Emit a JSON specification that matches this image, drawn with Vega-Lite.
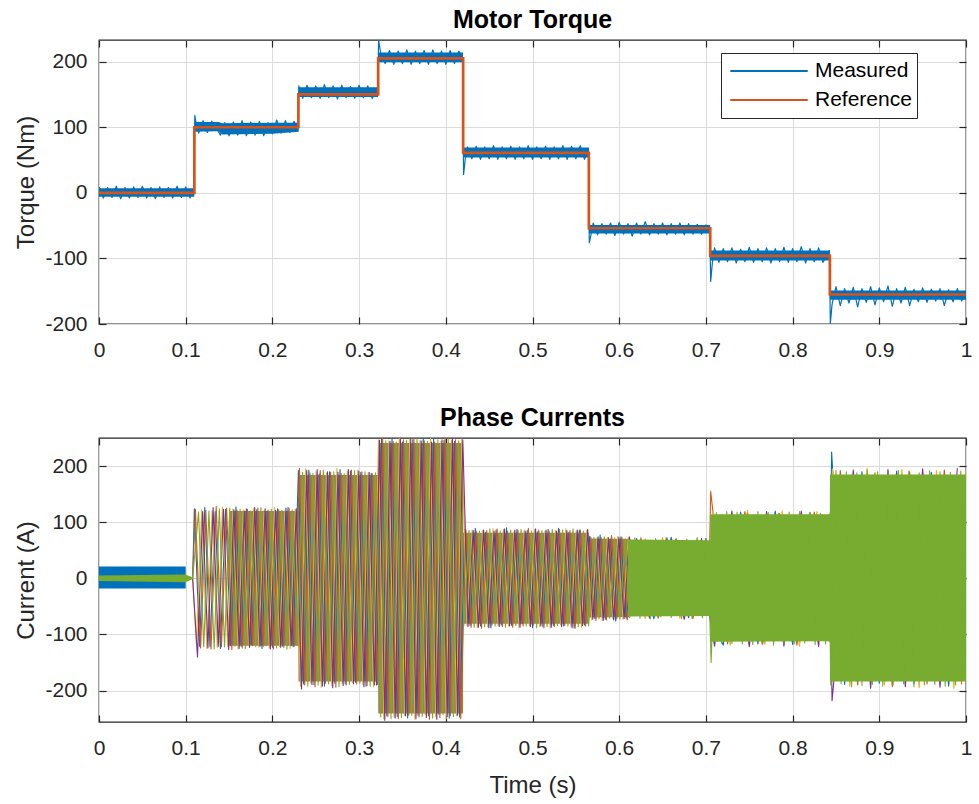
{
"$schema":"https://vega.github.io/schema/vega-lite/v6.json",
"background":"white",
"padding":{"left":14,"top":7,"right":5,"bottom":4},
"bounds":"flush",
"spacing":114,
"resolve":{"scale":{"color":"independent","x":"independent","y":"independent"}},
"config":{
 "font":"Liberation Sans",
 "view":{"stroke":"#262626","strokeWidth":1.3},
 "axis":{"labelFont":"Liberation Sans","labelFontSize":21,"labelColor":"#262626","labelFlush":false,"labelOverlap":false,"titleFont":"Liberation Sans","titleFontSize":24,"titleFontWeight":"normal","titleColor":"#262626","gridColor":"#dcdcdc","gridWidth":1,"domain":false,"tickColor":"#262626","tickSize":-7,"tickWidth":1.2},
 "axisX":{"labelPadding":22,"titlePadding":15},
 "axisY":{"labelPadding":19,"titlePadding":6},
 "title":{"font":"Liberation Sans","fontSize":25,"fontWeight":"bold","color":"#000000","offset":6,"anchor":"middle"},
 "legend":{"labelFont":"Liberation Sans"}
},
"datasets":{
"tband":[{"t":0,"lo":-6,"hi":7},{"t":0.1099,"lo":-6,"hi":7},{"t":0.1101,"lo":93,"hi":108},{"t":0.138,"lo":94,"hi":108},{"t":0.142,"lo":89,"hi":106},{"t":0.2,"lo":90,"hi":107},{"t":0.2299,"lo":93,"hi":107},{"t":0.2301,"lo":146,"hi":161},{"t":0.3219,"lo":146,"hi":161},{"t":0.3221,"lo":199,"hi":214},{"t":0.4199,"lo":199,"hi":214},{"t":0.4201,"lo":54,"hi":69},{"t":0.5649,"lo":54,"hi":69},{"t":0.5651,"lo":-62,"hi":-49},{"t":0.7049,"lo":-62,"hi":-49},{"t":0.7051,"lo":-103,"hi":-88},{"t":0.8429,"lo":-103,"hi":-88},{"t":0.8431,"lo":-163,"hi":-149},{"t":1,"lo":-163,"hi":-149}],
"meas":[{"t":0,"m":9},{"t":0.005,"m":-8},{"t":0.01,"m":8},{"t":0.015,"m":-7},{"t":0.02,"m":10},{"t":0.025,"m":-9},{"t":0.03,"m":8},{"t":0.035,"m":-8},{"t":0.04,"m":9},{"t":0.045,"m":-7},{"t":0.05,"m":10},{"t":0.055,"m":-8},{"t":0.06,"m":8},{"t":0.065,"m":-9},{"t":0.07,"m":9},{"t":0.075,"m":-7},{"t":0.08,"m":8},{"t":0.085,"m":-8},{"t":0.09,"m":10},{"t":0.095,"m":-7},{"t":0.1,"m":9},{"t":0.105,"m":-8},{"t":0.1095,"m":8},
{"t":0.1105,"m":118},{"t":0.112,"m":106},{"t":0.115,"m":91},{"t":0.12,"m":110},{"t":0.125,"m":92},{"t":0.13,"m":109},{"t":0.135,"m":100},{"t":0.14,"m":88},{"t":0.145,"m":107},{"t":0.15,"m":87},{"t":0.155,"m":108},{"t":0.16,"m":88},{"t":0.165,"m":110},{"t":0.17,"m":87},{"t":0.175,"m":108},{"t":0.18,"m":88},{"t":0.185,"m":109},{"t":0.19,"m":87},{"t":0.195,"m":107},{"t":0.2,"m":90},{"t":0.205,"m":111},{"t":0.21,"m":91},{"t":0.215,"m":110},{"t":0.22,"m":92},{"t":0.225,"m":109},{"t":0.2295,"m":94},
{"t":0.2305,"m":163},{"t":0.235,"m":144},{"t":0.24,"m":164},{"t":0.245,"m":145},{"t":0.25,"m":163},{"t":0.255,"m":144},{"t":0.26,"m":165},{"t":0.265,"m":145},{"t":0.27,"m":163},{"t":0.275,"m":143},{"t":0.28,"m":164},{"t":0.285,"m":145},{"t":0.29,"m":162},{"t":0.295,"m":144},{"t":0.3,"m":164},{"t":0.305,"m":145},{"t":0.31,"m":163},{"t":0.315,"m":144},{"t":0.3215,"m":160},
{"t":0.3225,"m":233},{"t":0.325,"m":212},{"t":0.33,"m":197},{"t":0.335,"m":217},{"t":0.34,"m":196},{"t":0.345,"m":216},{"t":0.35,"m":197},{"t":0.355,"m":218},{"t":0.36,"m":196},{"t":0.365,"m":216},{"t":0.37,"m":197},{"t":0.375,"m":217},{"t":0.38,"m":196},{"t":0.385,"m":218},{"t":0.39,"m":197},{"t":0.395,"m":216},{"t":0.4,"m":196},{"t":0.405,"m":217},{"t":0.41,"m":197},{"t":0.415,"m":216},{"t":0.4195,"m":205},
{"t":0.4205,"m":28},{"t":0.4225,"m":52},{"t":0.425,"m":70},{"t":0.43,"m":52},{"t":0.435,"m":71},{"t":0.44,"m":51},{"t":0.445,"m":70},{"t":0.45,"m":52},{"t":0.455,"m":72},{"t":0.46,"m":51},{"t":0.465,"m":70},{"t":0.47,"m":52},{"t":0.475,"m":71},{"t":0.48,"m":51},{"t":0.485,"m":70},{"t":0.49,"m":52},{"t":0.495,"m":72},{"t":0.5,"m":51},{"t":0.505,"m":70},{"t":0.51,"m":52},{"t":0.515,"m":71},{"t":0.52,"m":51},{"t":0.525,"m":70},{"t":0.53,"m":52},{"t":0.535,"m":72},{"t":0.54,"m":51},{"t":0.545,"m":71},{"t":0.55,"m":52},{"t":0.555,"m":72},{"t":0.56,"m":51},{"t":0.5645,"m":68},
{"t":0.5655,"m":-76},{"t":0.5675,"m":-64},{"t":0.57,"m":-46},{"t":0.575,"m":-64},{"t":0.58,"m":-47},{"t":0.585,"m":-63},{"t":0.59,"m":-46},{"t":0.595,"m":-65},{"t":0.6,"m":-45},{"t":0.605,"m":-63},{"t":0.61,"m":-47},{"t":0.615,"m":-66},{"t":0.62,"m":-46},{"t":0.625,"m":-63},{"t":0.63,"m":-44},{"t":0.635,"m":-64},{"t":0.64,"m":-47},{"t":0.645,"m":-63},{"t":0.65,"m":-46},{"t":0.655,"m":-64},{"t":0.66,"m":-47},{"t":0.665,"m":-63},{"t":0.67,"m":-46},{"t":0.675,"m":-64},{"t":0.68,"m":-47},{"t":0.685,"m":-63},{"t":0.69,"m":-48},{"t":0.695,"m":-63},{"t":0.7,"m":-49},{"t":0.7045,"m":-56},
{"t":0.7055,"m":-135},{"t":0.7075,"m":-106},{"t":0.71,"m":-84},{"t":0.715,"m":-106},{"t":0.72,"m":-85},{"t":0.725,"m":-105},{"t":0.73,"m":-84},{"t":0.735,"m":-107},{"t":0.74,"m":-86},{"t":0.745,"m":-105},{"t":0.75,"m":-83},{"t":0.755,"m":-106},{"t":0.76,"m":-85},{"t":0.765,"m":-105},{"t":0.77,"m":-84},{"t":0.775,"m":-107},{"t":0.78,"m":-85},{"t":0.785,"m":-105},{"t":0.79,"m":-83},{"t":0.795,"m":-106},{"t":0.8,"m":-85},{"t":0.805,"m":-105},{"t":0.81,"m":-82},{"t":0.815,"m":-107},{"t":0.82,"m":-85},{"t":0.825,"m":-105},{"t":0.83,"m":-84},{"t":0.835,"m":-106},{"t":0.8425,"m":-88},
{"t":0.8435,"m":-200},{"t":0.8455,"m":-170},{"t":0.85,"m":-143},{"t":0.855,"m":-172},{"t":0.86,"m":-146},{"t":0.865,"m":-168},{"t":0.87,"m":-144},{"t":0.875,"m":-174},{"t":0.88,"m":-146},{"t":0.885,"m":-167},{"t":0.89,"m":-143},{"t":0.895,"m":-171},{"t":0.9,"m":-145},{"t":0.905,"m":-166},{"t":0.91,"m":-142},{"t":0.915,"m":-173},{"t":0.92,"m":-146},{"t":0.925,"m":-168},{"t":0.93,"m":-144},{"t":0.935,"m":-172},{"t":0.94,"m":-147},{"t":0.945,"m":-166},{"t":0.95,"m":-145},{"t":0.955,"m":-167},{"t":0.96,"m":-147},{"t":0.965,"m":-165},{"t":0.97,"m":-146},{"t":0.975,"m":-172},{"t":0.98,"m":-148},{"t":0.985,"m":-166},{"t":0.99,"m":-146},{"t":0.995,"m":-165},{"t":1,"m":-152}],
"tref":[{"t":0,"r":0},{"t":0.11,"r":100},{"t":0.23,"r":150},{"t":0.322,"r":205},{"t":0.42,"r":61},{"t":0.565,"r":-54},{"t":0.705,"r":-96},{"t":0.843,"r":-155},{"t":1,"r":-155}],
"cb0":[{"t":0,"lo":-18,"hi":21},{"t":0.1,"lo":-18,"hi":21}],
"cmix":[{"t":0.15,"lo":-120,"hi":120},{"t":0.2299,"lo":-120,"hi":120},{"t":0.2301,"lo":-184,"hi":184},{"t":0.3219,"lo":-184,"hi":184},{"t":0.3221,"lo":-241,"hi":241},{"t":0.4199,"lo":-241,"hi":241},{"t":0.4201,"lo":-81,"hi":81},{"t":0.5649,"lo":-81,"hi":81},{"t":0.5651,"lo":-70,"hi":71},{"t":0.612,"lo":-69,"hi":70}],
"cgreen":[{"s":1,"t":0,"lo":-5,"hi":5},{"s":1,"t":0.1,"lo":-7,"hi":7},{"s":1,"t":0.11,"lo":0,"hi":0},{"s":2,"t":0.61,"lo":-68,"hi":69},{"s":2,"t":0.7049,"lo":-67,"hi":68},{"s":2,"t":0.7051,"lo":-113,"hi":114},{"s":2,"t":0.8429,"lo":-112,"hi":114},{"s":2,"t":0.8431,"lo":-184,"hi":185},{"s":2,"t":1,"lo":-184,"hi":185}],
"ph":[
{"p":"a","t":0.108,"i":0},{"p":"a","t":0.11,"i":124},{"p":"a","t":0.116,"i":-121},{"p":"a","t":0.122,"i":126},{"p":"a","t":0.128,"i":-122},{"p":"a","t":0.134,"i":119},{"p":"a","t":0.14,"i":-125},{"p":"a","t":0.146,"i":123},{"p":"a","t":0.152,"i":-120},{"p":"a","t":0.158,"i":127},{"p":"a","t":0.164,"i":-121},{"p":"a","t":0.17,"i":124},{"p":"a","t":0.176,"i":-118},{"p":"a","t":0.182,"i":122},{"p":"a","t":0.188,"i":-125},{"p":"a","t":0.194,"i":120},{"p":"a","t":0.2,"i":-123},{"p":"a","t":0.206,"i":124},{"p":"a","t":0.212,"i":-121},{"p":"a","t":0.218,"i":126},{"p":"a","t":0.224,"i":-122},
{"p":"a","t":0.23,"i":192},{"p":"a","t":0.236,"i":-188},{"p":"a","t":0.242,"i":193},{"p":"a","t":0.248,"i":-189},{"p":"a","t":0.254,"i":186},{"p":"a","t":0.26,"i":-192},{"p":"a","t":0.266,"i":190},{"p":"a","t":0.272,"i":-187},{"p":"a","t":0.278,"i":194},{"p":"a","t":0.284,"i":-188},{"p":"a","t":0.29,"i":191},{"p":"a","t":0.296,"i":-185},{"p":"a","t":0.302,"i":189},{"p":"a","t":0.308,"i":-192},{"p":"a","t":0.314,"i":187},{"p":"a","t":0.32,"i":-190},
{"p":"a","t":0.326,"i":248},{"p":"a","t":0.332,"i":-245},{"p":"a","t":0.338,"i":250},{"p":"a","t":0.344,"i":-246},{"p":"a","t":0.35,"i":243},{"p":"a","t":0.356,"i":-249},{"p":"a","t":0.362,"i":247},{"p":"a","t":0.368,"i":-244},{"p":"a","t":0.374,"i":251},{"p":"a","t":0.38,"i":-245},{"p":"a","t":0.386,"i":248},{"p":"a","t":0.392,"i":-242},{"p":"a","t":0.398,"i":246},{"p":"a","t":0.404,"i":-249},{"p":"a","t":0.41,"i":244},{"p":"a","t":0.416,"i":-247},
{"p":"a","t":0.422,"i":87},{"p":"a","t":0.428,"i":-84},{"p":"a","t":0.434,"i":89},{"p":"a","t":0.44,"i":-85},{"p":"a","t":0.446,"i":82},{"p":"a","t":0.452,"i":-88},{"p":"a","t":0.458,"i":86},{"p":"a","t":0.464,"i":-83},{"p":"a","t":0.47,"i":90},{"p":"a","t":0.476,"i":-84},{"p":"a","t":0.482,"i":87},{"p":"a","t":0.488,"i":-81},{"p":"a","t":0.494,"i":85},{"p":"a","t":0.5,"i":-88},{"p":"a","t":0.506,"i":83},{"p":"a","t":0.512,"i":-86},{"p":"a","t":0.518,"i":87},{"p":"a","t":0.524,"i":-84},{"p":"a","t":0.53,"i":89},{"p":"a","t":0.536,"i":-85},{"p":"a","t":0.542,"i":82},{"p":"a","t":0.548,"i":-88},{"p":"a","t":0.554,"i":86},{"p":"a","t":0.56,"i":-83},
{"p":"a","t":0.566,"i":75},{"p":"a","t":0.572,"i":-72},{"p":"a","t":0.578,"i":77},{"p":"a","t":0.584,"i":-73},{"p":"a","t":0.59,"i":70},{"p":"a","t":0.596,"i":-76},{"p":"a","t":0.602,"i":74},{"p":"a","t":0.608,"i":-71},
{"p":"a","t":0.62,"i":71},{"p":"a","t":0.64,"i":-72},{"p":"a","t":0.66,"i":73},{"p":"a","t":0.68,"i":-70},{"p":"a","t":0.7,"i":71},{"p":"a","t":0.7045,"i":-68},{"p":"a","t":0.72,"i":-119},{"p":"a","t":0.74,"i":118},{"p":"a","t":0.76,"i":-117},{"p":"a","t":0.78,"i":120},{"p":"a","t":0.8,"i":-118},{"p":"a","t":0.82,"i":117},{"p":"a","t":0.8425,"i":-112},{"p":"a","t":0.845,"i":225},{"p":"a","t":0.86,"i":-189},{"p":"a","t":0.88,"i":190},{"p":"a","t":0.9,"i":-187},{"p":"a","t":0.92,"i":191},{"p":"a","t":0.94,"i":-188},{"p":"a","t":0.96,"i":189},{"p":"a","t":0.98,"i":-192},{"p":"a","t":1,"i":187},
{"p":"b","t":0.108,"i":0},{"p":"b","t":0.1112,"i":123},{"p":"b","t":0.1172,"i":-124},{"p":"b","t":0.1232,"i":121},{"p":"b","t":0.1292,"i":-126},{"p":"b","t":0.1352,"i":128},{"p":"b","t":0.1412,"i":-122},{"p":"b","t":0.1472,"i":125},{"p":"b","t":0.1532,"i":-127},{"p":"b","t":0.1592,"i":121},{"p":"b","t":0.1652,"i":-124},{"p":"b","t":0.1712,"i":123},{"p":"b","t":0.1772,"i":-120},{"p":"b","t":0.1832,"i":125},{"p":"b","t":0.1892,"i":-122},{"p":"b","t":0.1952,"i":121},{"p":"b","t":0.2012,"i":-126},{"p":"b","t":0.2072,"i":122},{"p":"b","t":0.2132,"i":-123},{"p":"b","t":0.2192,"i":125},{"p":"b","t":0.2252,"i":-121},
{"p":"b","t":0.2312,"i":196},{"p":"b","t":0.2372,"i":-190},{"p":"b","t":0.2432,"i":188},{"p":"b","t":0.2492,"i":-193},{"p":"b","t":0.2552,"i":192},{"p":"b","t":0.2612,"i":-187},{"p":"b","t":0.2672,"i":189},{"p":"b","t":0.2732,"i":-194},{"p":"b","t":0.2792,"i":187},{"p":"b","t":0.2852,"i":-190},{"p":"b","t":0.2912,"i":193},{"p":"b","t":0.2972,"i":-188},{"p":"b","t":0.3032,"i":190},{"p":"b","t":0.3092,"i":-191},{"p":"b","t":0.3152,"i":186},{"p":"b","t":0.3212,"i":-189},
{"p":"b","t":0.3272,"i":249},{"p":"b","t":0.3332,"i":-246},{"p":"b","t":0.3392,"i":244},{"p":"b","t":0.3452,"i":-250},{"p":"b","t":0.3512,"i":247},{"p":"b","t":0.3572,"i":-244},{"p":"b","t":0.3632,"i":250},{"p":"b","t":0.3692,"i":-247},{"p":"b","t":0.3752,"i":245},{"p":"b","t":0.3812,"i":-251},{"p":"b","t":0.3872,"i":243},{"p":"b","t":0.3932,"i":-248},{"p":"b","t":0.3992,"i":249},{"p":"b","t":0.4052,"i":-245},{"p":"b","t":0.4112,"i":247},{"p":"b","t":0.4172,"i":-250},
{"p":"b","t":0.4232,"i":86},{"p":"b","t":0.4292,"i":-87},{"p":"b","t":0.4352,"i":84},{"p":"b","t":0.4412,"i":-89},{"p":"b","t":0.4472,"i":85},{"p":"b","t":0.4532,"i":-83},{"p":"b","t":0.4592,"i":88},{"p":"b","t":0.4652,"i":-86},{"p":"b","t":0.4712,"i":84},{"p":"b","t":0.4772,"i":-87},{"p":"b","t":0.4832,"i":86},{"p":"b","t":0.4892,"i":-85},{"p":"b","t":0.4952,"i":89},{"p":"b","t":0.5012,"i":-83},{"p":"b","t":0.5072,"i":86},{"p":"b","t":0.5132,"i":-88},{"p":"b","t":0.5192,"i":84},{"p":"b","t":0.5252,"i":-86},{"p":"b","t":0.5312,"i":87},{"p":"b","t":0.5372,"i":-84},{"p":"b","t":0.5432,"i":85},{"p":"b","t":0.5492,"i":-89},{"p":"b","t":0.5552,"i":86},{"p":"b","t":0.5612,"i":-85},
{"p":"b","t":0.5672,"i":73},{"p":"b","t":0.5732,"i":-75},{"p":"b","t":0.5792,"i":72},{"p":"b","t":0.5852,"i":-74},{"p":"b","t":0.5912,"i":76},{"p":"b","t":0.5972,"i":-72},{"p":"b","t":0.6032,"i":73},{"p":"b","t":0.6092,"i":-74},
{"p":"b","t":0.625,"i":72},{"p":"b","t":0.645,"i":-71},{"p":"b","t":0.665,"i":70},{"p":"b","t":0.685,"i":-72},{"p":"b","t":0.7045,"i":69},{"p":"b","t":0.7055,"i":155},{"p":"b","t":0.725,"i":-117},{"p":"b","t":0.745,"i":119},{"p":"b","t":0.765,"i":-118},{"p":"b","t":0.785,"i":116},{"p":"b","t":0.805,"i":-119},{"p":"b","t":0.825,"i":118},{"p":"b","t":0.8425,"i":-113},{"p":"b","t":0.855,"i":192},{"p":"b","t":0.875,"i":-190},{"p":"b","t":0.895,"i":188},{"p":"b","t":0.915,"i":-193},{"p":"b","t":0.935,"i":190},{"p":"b","t":0.955,"i":-188},{"p":"b","t":0.975,"i":193},{"p":"b","t":0.995,"i":-189},
{"p":"c","t":0.108,"i":0},{"p":"c","t":0.1124,"i":-117},{"p":"c","t":0.1184,"i":122},{"p":"c","t":0.1244,"i":-125},{"p":"c","t":0.1304,"i":120},{"p":"c","t":0.1364,"i":-123},{"p":"c","t":0.1424,"i":127},{"p":"c","t":0.1484,"i":-121},{"p":"c","t":0.1544,"i":124},{"p":"c","t":0.1604,"i":-126},{"p":"c","t":0.1664,"i":122},{"p":"c","t":0.1724,"i":-120},{"p":"c","t":0.1784,"i":125},{"p":"c","t":0.1844,"i":-123},{"p":"c","t":0.1904,"i":121},{"p":"c","t":0.1964,"i":-124},{"p":"c","t":0.2024,"i":126},{"p":"c","t":0.2084,"i":-122},{"p":"c","t":0.2144,"i":120},{"p":"c","t":0.2204,"i":-125},{"p":"c","t":0.2264,"i":123},
{"p":"c","t":0.2324,"i":-192},{"p":"c","t":0.2384,"i":195},{"p":"c","t":0.2444,"i":-187},{"p":"c","t":0.2504,"i":190},{"p":"c","t":0.2564,"i":-194},{"p":"c","t":0.2624,"i":188},{"p":"c","t":0.2684,"i":-191},{"p":"c","t":0.2744,"i":196},{"p":"c","t":0.2804,"i":-188},{"p":"c","t":0.2864,"i":191},{"p":"c","t":0.2924,"i":-186},{"p":"c","t":0.2984,"i":193},{"p":"c","t":0.3044,"i":-190},{"p":"c","t":0.3104,"i":188},{"p":"c","t":0.3164,"i":-193},
{"p":"c","t":0.3224,"i":247},{"p":"c","t":0.3284,"i":-250},{"p":"c","t":0.3344,"i":245},{"p":"c","t":0.3404,"i":-247},{"p":"c","t":0.3464,"i":250},{"p":"c","t":0.3524,"i":-244},{"p":"c","t":0.3584,"i":248},{"p":"c","t":0.3644,"i":-251},{"p":"c","t":0.3704,"i":246},{"p":"c","t":0.3764,"i":-243},{"p":"c","t":0.3824,"i":249},{"p":"c","t":0.3884,"i":-247},{"p":"c","t":0.3944,"i":244},{"p":"c","t":0.4004,"i":-250},{"p":"c","t":0.4064,"i":246},{"p":"c","t":0.4124,"i":-245},{"p":"c","t":0.4184,"i":248},
{"p":"c","t":0.4244,"i":-84},{"p":"c","t":0.4304,"i":86},{"p":"c","t":0.4364,"i":-88},{"p":"c","t":0.4424,"i":85},{"p":"c","t":0.4484,"i":-86},{"p":"c","t":0.4544,"i":88},{"p":"c","t":0.4604,"i":-84},{"p":"c","t":0.4664,"i":87},{"p":"c","t":0.4724,"i":-85},{"p":"c","t":0.4784,"i":83},{"p":"c","t":0.4844,"i":-88},{"p":"c","t":0.4904,"i":86},{"p":"c","t":0.4964,"i":-84},{"p":"c","t":0.5024,"i":87},{"p":"c","t":0.5084,"i":-86},{"p":"c","t":0.5144,"i":84},{"p":"c","t":0.5204,"i":-88},{"p":"c","t":0.5264,"i":85},{"p":"c","t":0.5324,"i":-83},{"p":"c","t":0.5384,"i":88},{"p":"c","t":0.5444,"i":-86},{"p":"c","t":0.5504,"i":84},{"p":"c","t":0.5564,"i":-87},{"p":"c","t":0.5624,"i":85},
{"p":"c","t":0.5684,"i":-74},{"p":"c","t":0.5744,"i":72},{"p":"c","t":0.5804,"i":-75},{"p":"c","t":0.5864,"i":73},{"p":"c","t":0.5924,"i":-71},{"p":"c","t":0.5984,"i":75},{"p":"c","t":0.6044,"i":-73},{"p":"c","t":0.6104,"i":72},
{"p":"c","t":0.63,"i":-72},{"p":"c","t":0.65,"i":73},{"p":"c","t":0.67,"i":-71},{"p":"c","t":0.69,"i":72},{"p":"c","t":0.7045,"i":-70},{"p":"c","t":0.708,"i":120},{"p":"c","t":0.728,"i":-119},{"p":"c","t":0.748,"i":121},{"p":"c","t":0.768,"i":-118},{"p":"c","t":0.788,"i":120},{"p":"c","t":0.808,"i":-121},{"p":"c","t":0.828,"i":119},{"p":"c","t":0.8425,"i":-112},{"p":"c","t":0.846,"i":195},{"p":"c","t":0.866,"i":-192},{"p":"c","t":0.886,"i":196},{"p":"c","t":0.906,"i":-190},{"p":"c","t":0.926,"i":194},{"p":"c","t":0.946,"i":-195},{"p":"c","t":0.966,"i":192},{"p":"c","t":0.986,"i":-196},{"p":"c","t":1,"i":190},
{"p":"d","t":0.108,"i":0},{"p":"d","t":0.1136,"i":-140},{"p":"d","t":0.1196,"i":119},{"p":"d","t":0.1256,"i":-124},{"p":"d","t":0.1316,"i":126},{"p":"d","t":0.1376,"i":-121},{"p":"d","t":0.1436,"i":123},{"p":"d","t":0.1496,"i":-127},{"p":"d","t":0.1556,"i":122},{"p":"d","t":0.1616,"i":-125},{"p":"d","t":0.1676,"i":120},{"p":"d","t":0.1736,"i":-123},{"p":"d","t":0.1796,"i":126},{"p":"d","t":0.1856,"i":-121},{"p":"d","t":0.1916,"i":124},{"p":"d","t":0.1976,"i":-126},{"p":"d","t":0.2036,"i":121},{"p":"d","t":0.2096,"i":-123},{"p":"d","t":0.2156,"i":125},{"p":"d","t":0.2216,"i":-120},{"p":"d","t":0.2276,"i":124},
{"p":"d","t":0.2336,"i":-197},{"p":"d","t":0.2396,"i":192},{"p":"d","t":0.2456,"i":-189},{"p":"d","t":0.2516,"i":194},{"p":"d","t":0.2576,"i":-192},{"p":"d","t":0.2636,"i":190},{"p":"d","t":0.2696,"i":-195},{"p":"d","t":0.2756,"i":189},{"p":"d","t":0.2816,"i":-191},{"p":"d","t":0.2876,"i":194},{"p":"d","t":0.2936,"i":-188},{"p":"d","t":0.2996,"i":191},{"p":"d","t":0.3056,"i":-193},{"p":"d","t":0.3116,"i":189},{"p":"d","t":0.3176,"i":-190},
{"p":"d","t":0.3236,"i":246},{"p":"d","t":0.3296,"i":-253},{"p":"d","t":0.3356,"i":244},{"p":"d","t":0.3416,"i":-249},{"p":"d","t":0.3476,"i":250},{"p":"d","t":0.3536,"i":-245},{"p":"d","t":0.3596,"i":248},{"p":"d","t":0.3656,"i":-250},{"p":"d","t":0.3716,"i":245},{"p":"d","t":0.3776,"i":-248},{"p":"d","t":0.3836,"i":243},{"p":"d","t":0.3896,"i":-251},{"p":"d","t":0.3956,"i":247},{"p":"d","t":0.4016,"i":-246},{"p":"d","t":0.4076,"i":250},{"p":"d","t":0.4136,"i":-244},{"p":"d","t":0.4196,"i":247},
{"p":"d","t":0.4256,"i":-86},{"p":"d","t":0.4316,"i":85},{"p":"d","t":0.4376,"i":-87},{"p":"d","t":0.4436,"i":86},{"p":"d","t":0.4496,"i":-88},{"p":"d","t":0.4556,"i":84},{"p":"d","t":0.4616,"i":-86},{"p":"d","t":0.4676,"i":88},{"p":"d","t":0.4736,"i":-85},{"p":"d","t":0.4796,"i":86},{"p":"d","t":0.4856,"i":-87},{"p":"d","t":0.4916,"i":84},{"p":"d","t":0.4976,"i":-86},{"p":"d","t":0.5036,"i":88},{"p":"d","t":0.5096,"i":-85},{"p":"d","t":0.5156,"i":86},{"p":"d","t":0.5216,"i":-87},{"p":"d","t":0.5276,"i":84},{"p":"d","t":0.5336,"i":-86},{"p":"d","t":0.5396,"i":85},{"p":"d","t":0.5456,"i":-88},{"p":"d","t":0.5516,"i":86},{"p":"d","t":0.5576,"i":-84},{"p":"d","t":0.5636,"i":87},
{"p":"d","t":0.5696,"i":-73},{"p":"d","t":0.5756,"i":74},{"p":"d","t":0.5816,"i":-75},{"p":"d","t":0.5876,"i":72},{"p":"d","t":0.5936,"i":-74},{"p":"d","t":0.5996,"i":73},{"p":"d","t":0.6056,"i":-72},{"p":"d","t":0.6116,"i":74},
{"p":"d","t":0.635,"i":-71},{"p":"d","t":0.655,"i":72},{"p":"d","t":0.675,"i":-73},{"p":"d","t":0.695,"i":71},{"p":"d","t":0.7045,"i":-69},{"p":"d","t":0.71,"i":-121},{"p":"d","t":0.73,"i":120},{"p":"d","t":0.75,"i":-122},{"p":"d","t":0.77,"i":119},{"p":"d","t":0.79,"i":-121},{"p":"d","t":0.81,"i":120},{"p":"d","t":0.83,"i":-122},{"p":"d","t":0.8425,"i":112},{"p":"d","t":0.8455,"i":-218},{"p":"d","t":0.87,"i":193},{"p":"d","t":0.89,"i":-196},{"p":"d","t":0.91,"i":194},{"p":"d","t":0.93,"i":-193},{"p":"d","t":0.95,"i":195},{"p":"d","t":0.97,"i":-194},{"p":"d","t":0.99,"i":196},
{"p":"e","t":0.108,"i":0},{"p":"e","t":0.1148,"i":118},{"p":"e","t":0.1208,"i":-122},{"p":"e","t":0.1268,"i":120},{"p":"e","t":0.1328,"i":-126},{"p":"e","t":0.1388,"i":124},{"p":"e","t":0.1448,"i":-122},{"p":"e","t":0.1508,"i":125},{"p":"e","t":0.1568,"i":-121},{"p":"e","t":0.1628,"i":123},{"p":"e","t":0.1688,"i":-125},{"p":"e","t":0.1748,"i":120},{"p":"e","t":0.1808,"i":-122},{"p":"e","t":0.1868,"i":126},{"p":"e","t":0.1928,"i":-120},{"p":"e","t":0.1988,"i":123},{"p":"e","t":0.2048,"i":-124},{"p":"e","t":0.2108,"i":121},{"p":"e","t":0.2168,"i":-126},{"p":"e","t":0.2228,"i":122},{"p":"e","t":0.2288,"i":-120},
{"p":"e","t":0.2348,"i":189},{"p":"e","t":0.2408,"i":-192},{"p":"e","t":0.2468,"i":187},{"p":"e","t":0.2528,"i":-190},{"p":"e","t":0.2588,"i":193},{"p":"e","t":0.2648,"i":-188},{"p":"e","t":0.2708,"i":190},{"p":"e","t":0.2768,"i":-193},{"p":"e","t":0.2828,"i":186},{"p":"e","t":0.2888,"i":-189},{"p":"e","t":0.2948,"i":192},{"p":"e","t":0.3008,"i":-187},{"p":"e","t":0.3068,"i":190},{"p":"e","t":0.3128,"i":-192},{"p":"e","t":0.3188,"i":188},
{"p":"e","t":0.3248,"i":-247},{"p":"e","t":0.3308,"i":245},{"p":"e","t":0.3368,"i":-250},{"p":"e","t":0.3428,"i":243},{"p":"e","t":0.3488,"i":-248},{"p":"e","t":0.3548,"i":246},{"p":"e","t":0.3608,"i":-244},{"p":"e","t":0.3668,"i":249},{"p":"e","t":0.3728,"i":-246},{"p":"e","t":0.3788,"i":244},{"p":"e","t":0.3848,"i":-249},{"p":"e","t":0.3908,"i":247},{"p":"e","t":0.3968,"i":-243},{"p":"e","t":0.4028,"i":248},{"p":"e","t":0.4088,"i":-246},{"p":"e","t":0.4148,"i":245},
{"p":"e","t":0.4208,"i":-84},{"p":"e","t":0.4268,"i":85},{"p":"e","t":0.4328,"i":-87},{"p":"e","t":0.4388,"i":84},{"p":"e","t":0.4448,"i":-86},{"p":"e","t":0.4508,"i":88},{"p":"e","t":0.4568,"i":-85},{"p":"e","t":0.4628,"i":84},{"p":"e","t":0.4688,"i":-87},{"p":"e","t":0.4748,"i":86},{"p":"e","t":0.4808,"i":-84},{"p":"e","t":0.4868,"i":87},{"p":"e","t":0.4928,"i":-85},{"p":"e","t":0.4988,"i":84},{"p":"e","t":0.5048,"i":-88},{"p":"e","t":0.5108,"i":85},{"p":"e","t":0.5168,"i":-86},{"p":"e","t":0.5228,"i":87},{"p":"e","t":0.5288,"i":-84},{"p":"e","t":0.5348,"i":86},{"p":"e","t":0.5408,"i":-85},{"p":"e","t":0.5468,"i":88},{"p":"e","t":0.5528,"i":-86},{"p":"e","t":0.5588,"i":84},{"p":"e","t":0.5648,"i":-85},
{"p":"e","t":0.5708,"i":73},{"p":"e","t":0.5768,"i":-72},{"p":"e","t":0.5828,"i":74},{"p":"e","t":0.5888,"i":-71},{"p":"e","t":0.5948,"i":72},{"p":"e","t":0.6008,"i":-73},{"p":"e","t":0.6068,"i":71},
{"p":"e","t":0.612,"i":-70},{"p":"e","t":0.618,"i":72},{"p":"e","t":0.624,"i":-71},{"p":"e","t":0.63,"i":70},{"p":"e","t":0.636,"i":-72},{"p":"e","t":0.642,"i":71},{"p":"e","t":0.648,"i":-69},{"p":"e","t":0.654,"i":72},{"p":"e","t":0.66,"i":-70},{"p":"e","t":0.666,"i":71},{"p":"e","t":0.672,"i":-72},{"p":"e","t":0.678,"i":70},{"p":"e","t":0.684,"i":-71},{"p":"e","t":0.69,"i":72},{"p":"e","t":0.696,"i":-70},{"p":"e","t":0.7,"i":71},{"p":"e","t":0.7045,"i":-69},
{"p":"e","t":0.706,"i":-150},{"p":"e","t":0.712,"i":117},{"p":"e","t":0.718,"i":-115},{"p":"e","t":0.724,"i":119},{"p":"e","t":0.73,"i":-116},{"p":"e","t":0.736,"i":118},{"p":"e","t":0.742,"i":-117},{"p":"e","t":0.748,"i":116},{"p":"e","t":0.754,"i":-118},{"p":"e","t":0.76,"i":119},{"p":"e","t":0.766,"i":-115},{"p":"e","t":0.772,"i":117},{"p":"e","t":0.778,"i":-119},{"p":"e","t":0.784,"i":116},{"p":"e","t":0.79,"i":-116},{"p":"e","t":0.796,"i":118},{"p":"e","t":0.802,"i":-117},{"p":"e","t":0.808,"i":119},{"p":"e","t":0.814,"i":-115},{"p":"e","t":0.82,"i":117},{"p":"e","t":0.826,"i":-118},{"p":"e","t":0.832,"i":116},{"p":"e","t":0.838,"i":-117},{"p":"e","t":0.8425,"i":115},
{"p":"e","t":0.844,"i":-190},{"p":"e","t":0.85,"i":192},{"p":"e","t":0.856,"i":-188},{"p":"e","t":0.862,"i":190},{"p":"e","t":0.868,"i":-193},{"p":"e","t":0.874,"i":188},{"p":"e","t":0.88,"i":-191},{"p":"e","t":0.886,"i":193},{"p":"e","t":0.892,"i":-189},{"p":"e","t":0.898,"i":190},{"p":"e","t":0.904,"i":-192},{"p":"e","t":0.91,"i":189},{"p":"e","t":0.916,"i":-190},{"p":"e","t":0.922,"i":192},{"p":"e","t":0.928,"i":-188},{"p":"e","t":0.934,"i":191},{"p":"e","t":0.94,"i":-193},{"p":"e","t":0.946,"i":188},{"p":"e","t":0.952,"i":-190},{"p":"e","t":0.958,"i":192},{"p":"e","t":0.964,"i":-189},{"p":"e","t":0.97,"i":190},{"p":"e","t":0.976,"i":-192},{"p":"e","t":0.982,"i":189},{"p":"e","t":0.988,"i":-190},{"p":"e","t":0.994,"i":191},{"p":"e","t":1,"i":-188}
]
},
"vconcat":[
{
 "title":"Motor Torque",
 "width":867,"height":284,
 "resolve":{"axis":{"x":"independent","y":"independent"}},
 "layer":[
  {"data":{"name":"tband"},"mark":{"type":"area","color":"#0072BD","clip":true},
   "encoding":{
    "x":{"field":"t","type":"quantitative","scale":{"domain":[0,1],"nice":false,"zero":false},"axis":{"values":[0,0.1,0.2,0.3,0.4,0.5,0.6,0.7,0.8,0.9,1],"labelExpr":"''+datum.value","grid":true,"title":null}},
    "y":{"field":"lo","type":"quantitative","scale":{"domain":[-200,233],"nice":false,"zero":false},"axis":{"values":[-200,-100,0,100,200],"labelExpr":"''+datum.value","grid":true,"title":"Torque (Nm)"}},
    "y2":{"field":"hi"}}},
  {"data":{"name":"meas"},"mark":{"type":"line","strokeWidth":1.2,"clip":true,"strokeJoin":"round"},
   "encoding":{
    "x":{"field":"t","type":"quantitative","axis":{"orient":"top","values":[0,0.1,0.2,0.3,0.4,0.5,0.6,0.7,0.8,0.9,1],"labels":false,"grid":false,"title":null}},
    "y":{"field":"m","type":"quantitative","axis":{"orient":"right","values":[-200,-100,0,100,200],"labels":false,"grid":false,"title":null}},
    "color":{"datum":"Measured","type":"nominal","scale":{"domain":["Measured","Reference"],"range":["#0072BD","#D95319"]},
     "legend":{"title":null,"orient":"none","legendX":622,"legendY":13,"symbolType":"stroke","symbolSize":6000,"symbolStrokeWidth":2,"symbolOffset":3,"labelFontSize":21,"labelColor":"#000000","strokeColor":"#262626","fillColor":"#ffffff","padding":5,"clipHeight":26,"labelOffset":6,"rowPadding":3}}}},
  {"data":{"name":"tref"},"mark":{"type":"line","strokeWidth":2.7,"interpolate":"step-after","clip":true},
   "encoding":{"x":{"field":"t","type":"quantitative","axis":null},"y":{"field":"r","type":"quantitative","axis":null},"color":{"datum":"Reference","type":"nominal"}}}
 ]
},
{
 "title":"Phase Currents",
 "width":867,"height":284,
 "resolve":{"axis":{"x":"independent","y":"independent"}},
 "layer":[
  {"data":{"name":"cb0"},"mark":{"type":"area","color":"#0072BD","clip":true},
   "encoding":{
    "x":{"field":"t","type":"quantitative","scale":{"domain":[0,1],"nice":false,"zero":false},"axis":{"values":[0,0.1,0.2,0.3,0.4,0.5,0.6,0.7,0.8,0.9,1],"labelExpr":"''+datum.value","grid":true,"title":"Time (s)"}},
    "y":{"field":"lo","type":"quantitative","scale":{"domain":[-256,250],"nice":false,"zero":false},"axis":{"values":[-200,-100,0,100,200],"labelExpr":"''+datum.value","grid":true,"title":"Current (A)"}},
    "y2":{"field":"hi"}}},
  {"data":{"name":"cmix"},"mark":{"type":"area","color":"#9b8450","clip":true},
   "encoding":{
    "x":{"field":"t","type":"quantitative","axis":{"orient":"top","values":[0,0.1,0.2,0.3,0.4,0.5,0.6,0.7,0.8,0.9,1],"labels":false,"grid":false,"title":null}},
    "y":{"field":"lo","type":"quantitative","axis":{"orient":"right","values":[-200,-100,0,100,200],"labels":false,"grid":false,"title":null}},
    "y2":{"field":"hi"}}},
  {"data":{"name":"ph"},"transform":[{"filter":"datum.p != 'e'"}],"mark":{"type":"line","strokeWidth":1.1,"clip":true,"strokeJoin":"round"},
   "encoding":{"x":{"field":"t","type":"quantitative","axis":null},"y":{"field":"i","type":"quantitative","axis":null},
    "color":{"field":"p","type":"nominal","scale":{"domain":["a","b","c","d","e"],"range":["#0072BD","#D95319","#EDB120","#7E2F8E","#77AC30"]},"legend":null}}},
  {"data":{"name":"cgreen"},"mark":{"type":"area","color":"#77AC30","clip":true},
   "encoding":{"x":{"field":"t","type":"quantitative","axis":null},"y":{"field":"lo","type":"quantitative","axis":null},"y2":{"field":"hi"},"detail":{"field":"s","type":"nominal"}}},
  {"data":{"name":"ph"},"transform":[{"filter":"datum.p == 'e'"}],"mark":{"type":"line","strokeWidth":1.1,"clip":true,"strokeJoin":"round"},
   "encoding":{"x":{"field":"t","type":"quantitative","axis":null},"y":{"field":"i","type":"quantitative","axis":null},
    "color":{"field":"p","type":"nominal","legend":null}}}
 ]
}
]
}
